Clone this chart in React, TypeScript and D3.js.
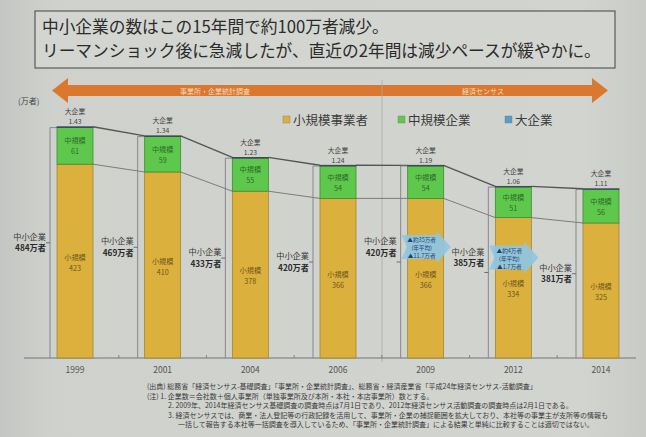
import React from "react";
import * as d3 from "d3";

const years = ["1999", "2001", "2004", "2006", "2009", "2012", "2014"];
const smallValues = [423, 410, 378, 366, 366, 334, 325];
const mediumValues = [61, 59, 55, 54, 54, 51, 56];
const largeValues = [1.43, 1.34, 1.23, 1.24, 1.19, 1.06, 1.11];
const smeTotals = [484, 469, 433, 420, 420, 385, 381];
const changeFrom = ["2009", "2012"];
const changeLines = [
  ["▲約35万者", "(年平均)", "▲11.7万者"],
  ["▲約4万者", "(年平均)", "▲1.7万者"],
];
const titleLines = [
  "中小企業の数はこの15年間で約100万者減少。",
  "リーマンショック後に急減したが、直近の2年間は減少ペースが緩やかに。",
];
const legendLabels = ["小規模事業者", "中規模企業", "大企業"];
const surveyLabels = ["事業所・企業統計調査", "経済センサス"];
const footnotes = [
  "(出典) 総務省「経済センサス-基礎調査」「事業所・企業統計調査」、総務省・経済産業省「平成24年経済センサス-活動調査」",
  "(注) 1. 企業数＝会社数＋個人事業所（単独事業所及び本所・本社・本店事業所）数とする。",
  "2. 2009年、2014年経済センサス基礎調査の調査時点は7月1日であり、2012年経済センサス活動調査の調査時点は2月1日である。",
  "3. 経済センサスでは、商業・法人登記等の行政記録を活用して、事業所・企業の捕捉範囲を拡大しており、本社等の事業主が支所等の情報も",
  "一括して報告する本社等一括調査を導入しているため、「事業所・企業統計調査」による結果と単純に比較することは適切ではない。",
];

const W = 646;
const H = 437;
const FONT = "'Noto Sans CJK JP', 'Noto Sans', sans-serif";
const YELLOW = "#dcb03c";
const GREEN = "#5ec84c";
const BLUE = "#5a9bc8";
const ORANGE = "#d9782e";

export default function App() {
  const x = d3.scalePoint<string>().domain(years).range([75, 601]);
  const y = d3.scaleLinear().domain([100, 500]).range([358, 118]);
  const barW = 36;
  const base = y(100);
  const step = x.step();

  const bars = years.map((yr, i) => {
    const cx = x(yr) as number;
    const left = cx - barW / 2;
    const right = cx + barW / 2;
    const s = smallValues[i];
    const m = mediumValues[i];
    const l = largeValues[i];
    const total = smeTotals[i];
    const noteIdx = changeFrom.indexOf(yr);
    const mid = (y(total) + base) / 2;
    return { yr, i, cx, left, right, s, m, l, total, noteIdx, mid, bx: left - 7 };
  });

  const arrowPath = () => {
    const l = 52, r = 608, bt = 85, bb = 96, ht = 78, hb = 103, hl = 16;
    const cy = (bt + bb) / 2;
    return `M${l},${cy} L${l + hl},${ht} L${l + hl},${bt} L${r - hl},${bt} L${r - hl},${ht} L${r},${cy} L${r - hl},${hb} L${r - hl},${bb} L${l + hl},${bb} L${l + hl},${hb} Z`;
  };

  const calloutPath = (cx: number, cy: number) =>
    `M${cx - 24},${cy - 12} L${cx + 11},${cy - 12} L${cx + 11},${cy - 16} L${cx + 25},${cy} L${cx + 11},${cy + 16} L${cx + 11},${cy + 12} L${cx - 24},${cy + 12} L${cx - 19},${cy} Z`;

  return (
    <svg width={W} height={H} style={{ position: "absolute", left: 0, top: 0 }} fontFamily={FONT}>
      <defs>
        <linearGradient id="bg" x1="0" x2="1" y1="0" y2="0">
          <stop offset="0" stopColor="#c3c6c2" />
          <stop offset="0.08" stopColor="#cfd1cd" />
          <stop offset="0.9" stopColor="#d2d4d0" />
          <stop offset="1" stopColor="#c9cbc7" />
        </linearGradient>
      </defs>
      <rect x={0} y={0} width={W} height={H} fill="url(#bg)" />

      {/* title box */}
      <rect x={35} y={11} width={580} height={57} fill="#d3d5d1" stroke="#5a5a5a" strokeWidth={1.2} />
      {titleLines.map((t, i) => (
        <text key={i} x={42} y={33 + i * 24} fontSize={16.7} fill="#2b2b2b">
          {t}
        </text>
      ))}

      {/* survey arrow */}
      <path d={arrowPath()} fill={ORANGE} />
      <text x={215} y={93.5} fontSize={7} fill="#f6dcc0" textAnchor="middle">
        {surveyLabels[0]}
      </text>
      <text x={483} y={93.5} fontSize={7} fill="#f6dcc0" textAnchor="middle">
        {surveyLabels[1]}
      </text>
      <line x1={382} x2={382} y1={80} y2={362} stroke="#a9aba7" strokeWidth={0.8} />

      <text x={18} y={104} fontSize={8} fill="#444">
        (万者)
      </text>

      {/* legend */}
      {[YELLOW, GREEN, BLUE].map((c, i) => {
        const lx = [283, 398, 505][i];
        return (
          <g key={i}>
            <rect x={lx} y={116} width={7} height={7} fill={c} stroke="#777" strokeWidth={0.4} />
            <text x={lx + 10} y={124.5} fontSize={12.5} fill="#3a3a3a">
              {legendLabels[i]}
            </text>
          </g>
        );
      })}

      {/* axis */}
      <line x1={24} x2={636} y1={base} y2={base} stroke="#777" strokeWidth={1} />
      {years.slice(0, -1).map((yr) => {
        const tx = (x(yr) as number) + step / 2;
        return <line key={yr} x1={tx} x2={tx} y1={base} y2={base - 3} stroke="#777" strokeWidth={0.8} />;
      })}
      {bars.map((b) => (
        <text key={b.yr} x={b.cx} y={373} fontSize={8.5} fill="#555" textAnchor="middle">
          {b.yr}
        </text>
      ))}

      {/* connector lines */}
      {bars.slice(0, -1).map((b, i) => {
        const n = bars[i + 1];
        return (
          <g key={b.yr}>
            <line x1={b.right} x2={n.left} y1={y(b.total + b.l)} y2={y(n.total + n.l)} stroke="#555" strokeWidth={1.3} />
            <line x1={b.right} x2={n.left} y1={y(b.s)} y2={y(n.s)} stroke="#666" strokeWidth={0.8} />
          </g>
        );
      })}

      {/* brackets */}
      {bars.map((b) => (
        <g key={b.yr}>
          <path
            d={`M${b.left},${y(b.total)} H${b.bx} V${base}`}
            fill="none"
            stroke="#7d7f86"
            strokeWidth={0.9}
          />
          <line x1={b.bx - 4} x2={b.bx} y1={b.mid} y2={b.mid} stroke="#555" strokeWidth={0.8} />
        </g>
      ))}

      {/* bars */}
      {bars.map((b) => (
        <g key={b.yr}>
          <rect x={b.left} y={y(b.s)} width={barW} height={base - y(b.s)} fill={YELLOW} stroke="#9a7f2a" strokeWidth={0.7} />
          <rect x={b.left} y={y(b.total)} width={barW} height={y(b.s) - y(b.total)} fill={GREEN} stroke="#3c8c34" strokeWidth={0.8} />
          <rect x={b.left} y={y(b.total + b.l)} width={barW} height={y(b.total) - y(b.total + b.l)} fill={BLUE} stroke="#3d4a55" strokeWidth={0.8} />
          <text x={b.cx} y={(y(b.total) + y(b.s)) / 2 - 2.5} fontSize={7.2} fill="#2e6a2a" textAnchor="middle">
            中規模
          </text>
          <text x={b.cx} y={(y(b.total) + y(b.s)) / 2 + 8.5} fontSize={7.2} fill="#2e6a2a" textAnchor="middle">
            {b.m}
          </text>
          <text x={b.cx} y={(y(b.s) + base) / 2 - 1.5} fontSize={7.2} fill="#6e5620" textAnchor="middle">
            小規模
          </text>
          <text x={b.cx} y={(y(b.s) + base) / 2 + 9.5} fontSize={7.2} fill="#6e5620" textAnchor="middle">
            {b.s}
          </text>
          <text x={b.cx} y={y(b.total + b.l) - 12.5} fontSize={6.8} fill="#444" textAnchor="middle">
            大企業
          </text>
          <text x={b.cx} y={y(b.total + b.l) - 2.5} fontSize={6.8} fill="#444" textAnchor="middle">
            {b.l.toFixed(2)}
          </text>
        </g>
      ))}

      {/* SME totals */}
      {bars.map((b) => {
        const cy = b.mid + (b.noteIdx >= 0 ? -15 : 0);
        return (
          <g key={b.yr}>
            <text x={b.bx - 4} y={cy - 3} fontSize={8.2} fill="#3a3a3a" textAnchor="end">
              中小企業
            </text>
            <text x={b.bx - 4} y={cy + 8.5} fontSize={8.2} fontWeight="bold" fill="#2a2a2a" textAnchor="end">
              {b.total}万者
            </text>
          </g>
        );
      })}

      {/* change callouts */}
      {bars
        .filter((b) => b.noteIdx >= 0)
        .map((b) => {
          const cy = b.mid - 15;
          const lines = changeLines[b.noteIdx];
          return (
            <g key={b.yr}>
              <path d={calloutPath(b.cx, cy)} fill="#8ec6e4" opacity={0.92} />
              {lines.map((t, j) => (
                <text key={j} x={b.cx - 4} y={cy - 5 + j * 8} fontSize={5.6} fill="#1d3f7a" textAnchor="middle">
                  {t}
                </text>
              ))}
            </g>
          );
        })}

      {/* footnotes */}
      {footnotes.map((t, i) => (
        <text key={i} x={[147, 147, 168, 168, 178][i]} y={389 + i * 9.5} fontSize={7} fill="#3a3a3a">
          {t}
        </text>
      ))}
    </svg>
  );
}
